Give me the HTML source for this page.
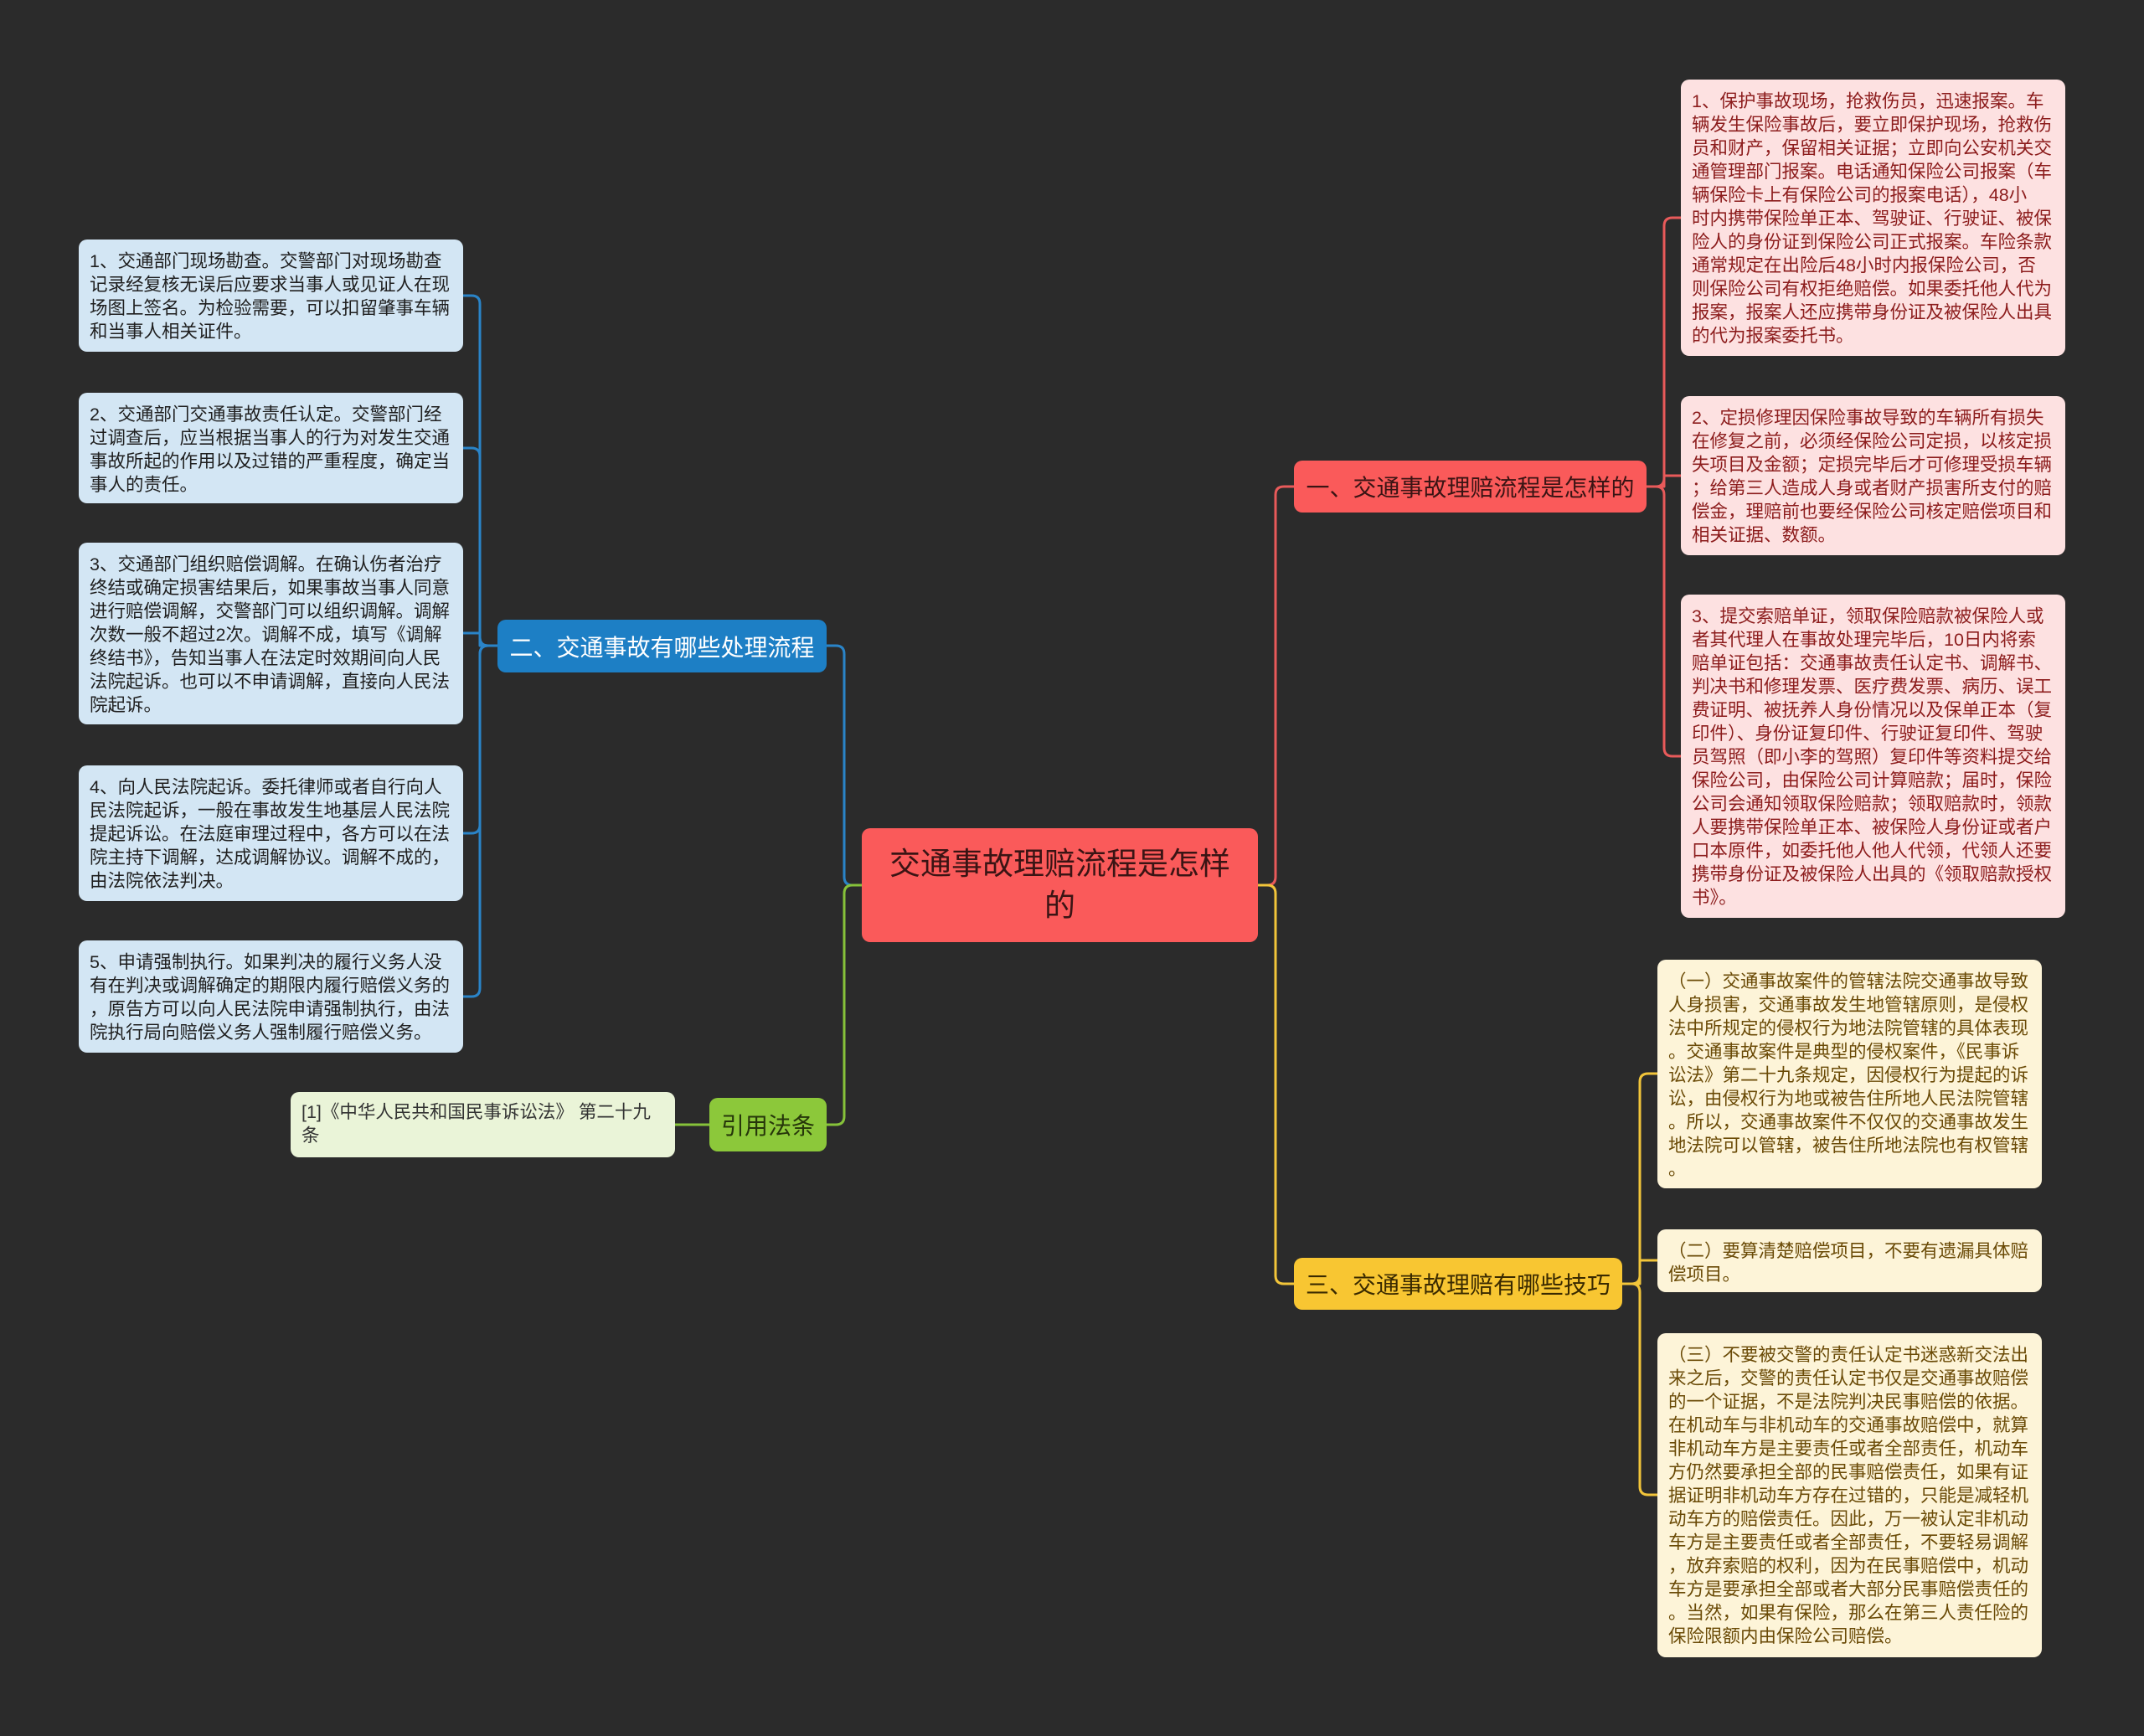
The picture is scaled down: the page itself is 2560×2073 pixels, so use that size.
<!DOCTYPE html>
<html><head><meta charset="utf-8">
<style>
html,body{margin:0;padding:0}
body{width:2560px;height:2073px;background:#2b2b2b;position:relative;overflow:hidden;font-family:"Liberation Sans","Noto Sans CJK SC",sans-serif}
.n{position:absolute;box-sizing:border-box;border-radius:10px}
.leaf{padding:12px 13px;font-size:21.5px;line-height:28px;white-space:nowrap}
.bl{background:#d3e6f4;color:#1f1f1f;left:94px;width:459px}
.rd{background:#fde1e1;color:#8c1c1c;left:2007px;width:459px}
.yl{background:#fdf4d8;color:#6a4a06;left:1979px;width:459px}
.br{display:flex;align-items:center;justify-content:center;font-size:28px;white-space:nowrap}
svg{position:absolute;left:0;top:0}
</style></head><body>
<svg width="2560" height="2073" fill="none" stroke-width="3" stroke-linejoin="round">
<g stroke="#2a84c8">
<path d="M1029 1057 H1018 Q1008 1057 1008 1047 V781 Q1008 771 998 771 H987"/>
<path d="M594 771 H583 Q573 771 573 761 V363 Q573 353 563 353 H552"/>
<path d="M594 771 H583 Q573 771 573 761 V545 Q573 535 563 535 H552"/>
<path d="M594 771 H573 V756 H552"/>
<path d="M594 771 H583 Q573 771 573 781 V985 Q573 995 563 995 H552"/>
<path d="M594 771 H583 Q573 771 573 781 V1180 Q573 1190 563 1190 H552"/>
</g>
<g stroke="#86c23a">
<path d="M1029 1057 H1018 Q1008 1057 1008 1067 V1333 Q1008 1343 998 1343 H987"/>
<path d="M847 1343 H806"/>
</g>
<g stroke="#e85a5a">
<path d="M1502 1057 H1513 Q1523 1057 1523 1047 V591 Q1523 581 1533 581 H1545"/>
<path d="M1966 581 H1977 Q1987 581 1987 571 V270 Q1987 260 1997 260 H2007"/>
<path d="M1966 581 H1987 V568 H2007"/>
<path d="M1966 581 H1977 Q1987 581 1987 591 V893 Q1987 903 1997 903 H2007"/>
</g>
<g stroke="#f2c53a">
<path d="M1502 1057 H1513 Q1523 1057 1523 1067 V1523 Q1523 1533 1533 1533 H1545"/>
<path d="M1937 1533 H1948 Q1958 1533 1958 1523 V1292 Q1958 1282 1968 1282 H1979"/>
<path d="M1937 1533 H1958 V1505 H1979"/>
<path d="M1937 1533 H1948 Q1958 1533 1958 1543 V1775 Q1958 1785 1968 1785 H1979"/>
</g>
</svg>

<div class="n br" style="left:1029px;top:989px;width:473px;height:136px;background:#fa5a5a;color:#3a1414;font-size:37px;line-height:50px;text-align:center;white-space:normal;padding:0 30px">交通事故理赔流程是怎样的</div>

<div class="n br" style="left:1545px;top:550px;width:421px;height:62px;background:#fa5a5a;color:#3a1414">一、交通事故理赔流程是怎样的</div>
<div class="n br" style="left:594px;top:740px;width:393px;height:63px;background:#1d7fc5;color:#fff">二、交通事故有哪些处理流程</div>
<div class="n br" style="left:1545px;top:1502px;width:392px;height:62px;background:#f8c632;color:#3a2a00">三、交通事故理赔有哪些技巧</div>
<div class="n br" style="left:847px;top:1311px;width:140px;height:64px;background:#8cc83a;color:#26360a">引用法条</div>

<div class="n leaf" style="left:347px;top:1304px;width:459px;height:78px;background:#eaf4d8;color:#333;padding-top:10px">[1]《中华人民共和国民事诉讼法》 第二十九<br>条</div>

<div class="n leaf bl" style="top:286px;height:134px">1、交通部门现场勘查。交警部门对现场勘查<br>记录经复核无误后应要求当事人或见证人在现<br>场图上签名。为检验需要，可以扣留肇事车辆<br>和当事人相关证件。</div>
<div class="n leaf bl" style="top:469px;height:132px">2、交通部门交通事故责任认定。交警部门经<br>过调查后，应当根据当事人的行为对发生交通<br>事故所起的作用以及过错的严重程度，确定当<br>事人的责任。</div>
<div class="n leaf bl" style="top:648px;height:217px">3、交通部门组织赔偿调解。在确认伤者治疗<br>终结或确定损害结果后，如果事故当事人同意<br>进行赔偿调解，交警部门可以组织调解。调解<br>次数一般不超过2次。调解不成，填写《调解<br>终结书》，告知当事人在法定时效期间向人民<br>法院起诉。也可以不申请调解，直接向人民法<br>院起诉。</div>
<div class="n leaf bl" style="top:914px;height:162px">4、向人民法院起诉。委托律师或者自行向人<br>民法院起诉，一般在事故发生地基层人民法院<br>提起诉讼。在法庭审理过程中，各方可以在法<br>院主持下调解，达成调解协议。调解不成的，<br>由法院依法判决。</div>
<div class="n leaf bl" style="top:1123px;height:134px">5、申请强制执行。如果判决的履行义务人没<br>有在判决或调解确定的期限内履行赔偿义务的<br>，原告方可以向人民法院申请强制执行，由法<br>院执行局向赔偿义务人强制履行赔偿义务。</div>

<div class="n leaf rd" style="top:95px;height:330px">1、保护事故现场，抢救伤员，迅速报案。车<br>辆发生保险事故后，要立即保护现场，抢救伤<br>员和财产，保留相关证据；立即向公安机关交<br>通管理部门报案。电话通知保险公司报案（车<br>辆保险卡上有保险公司的报案电话），48小<br>时内携带保险单正本、驾驶证、行驶证、被保<br>险人的身份证到保险公司正式报案。车险条款<br>通常规定在出险后48小时内报保险公司，否<br>则保险公司有权拒绝赔偿。如果委托他人代为<br>报案，报案人还应携带身份证及被保险人出具<br>的代为报案委托书。</div>
<div class="n leaf rd" style="top:473px;height:190px">2、定损修理因保险事故导致的车辆所有损失<br>在修复之前，必须经保险公司定损，以核定损<br>失项目及金额；定损完毕后才可修理受损车辆<br>；给第三人造成人身或者财产损害所支付的赔<br>偿金，理赔前也要经保险公司核定赔偿项目和<br>相关证据、数额。</div>
<div class="n leaf rd" style="top:710px;height:386px">3、提交索赔单证，领取保险赔款被保险人或<br>者其代理人在事故处理完毕后，10日内将索<br>赔单证包括：交通事故责任认定书、调解书、<br>判决书和修理发票、医疗费发票、病历、误工<br>费证明、被抚养人身份情况以及保单正本（复<br>印件）、身份证复印件、行驶证复印件、驾驶<br>员驾照（即小李的驾照）复印件等资料提交给<br>保险公司，由保险公司计算赔款；届时，保险<br>公司会通知领取保险赔款；领取赔款时，领款<br>人要携带保险单正本、被保险人身份证或者户<br>口本原件，如委托他人他人代领，代领人还要<br>携带身份证及被保险人出具的《领取赔款授权<br>书》。</div>

<div class="n leaf yl" style="top:1146px;height:273px">（一）交通事故案件的管辖法院交通事故导致<br>人身损害，交通事故发生地管辖原则，是侵权<br>法中所规定的侵权行为地法院管辖的具体表现<br>。交通事故案件是典型的侵权案件，《民事诉<br>讼法》第二十九条规定，因侵权行为提起的诉<br>讼，由侵权行为地或被告住所地人民法院管辖<br>。所以，交通事故案件不仅仅的交通事故发生<br>地法院可以管辖，被告住所地法院也有权管辖<br>。</div>
<div class="n leaf yl" style="top:1468px;height:75px">（二）要算清楚赔偿项目，不要有遗漏具体赔<br>偿项目。</div>
<div class="n leaf yl" style="top:1592px;height:387px">（三）不要被交警的责任认定书迷惑新交法出<br>来之后，交警的责任认定书仅是交通事故赔偿<br>的一个证据，不是法院判决民事赔偿的依据。<br>在机动车与非机动车的交通事故赔偿中，就算<br>非机动车方是主要责任或者全部责任，机动车<br>方仍然要承担全部的民事赔偿责任，如果有证<br>据证明非机动车方存在过错的，只能是减轻机<br>动车方的赔偿责任。因此，万一被认定非机动<br>车方是主要责任或者全部责任，不要轻易调解<br>，放弃索赔的权利，因为在民事赔偿中，机动<br>车方是要承担全部或者大部分民事赔偿责任的<br>。当然，如果有保险，那么在第三人责任险的<br>保险限额内由保险公司赔偿。</div>
</body></html>
